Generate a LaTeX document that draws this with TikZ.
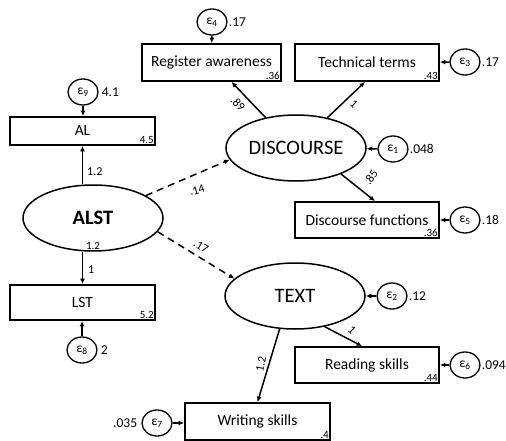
\documentclass[tikz,border=0pt]{standalone}
\usepackage{fontspec}
\setmainfont{Carlito}
\usetikzlibrary{shapes.geometric,arrows.meta}

\begin{document}
\begin{tikzpicture}[x=1pt,y=-1pt,
        obs/.style={draw,rectangle,line width=1.8pt,minimum width=144pt,minimum height=36pt,inner sep=0pt,font=\fontsize{15.5}{16}\selectfont},
        lat/.style={draw,ellipse,line width=1.5pt,minimum width=140pt,minimum height=66pt,inner sep=0pt,font=\fontsize{20.5}{22}\selectfont},
        err/.style={draw,ellipse,line width=1.3pt,minimum width=30pt,minimum height=26pt,inner sep=0pt,font=\fontsize{13.5}{14}\selectfont},
        load/.style={-{Latex[length=5.5pt,width=5pt]},line width=1.5pt},
        cov/.style={load,dash pattern=on 7pt off 5pt},
        ic/.style={anchor=south east,inner sep=2pt,font=\fontsize{11}{12}\selectfont},
        evar/.style={inner sep=1pt,font=\fontsize{13.5}{14}\selectfont},
        coef/.style={inner sep=0pt,font=\fontsize{12}{12}\selectfont}]
    \useasboundingbox (0,0) rectangle (506,441);

    % latent variables
    \node[lat,font=\fontsize{20.5}{22}\selectfont\bfseries] (ALST) at (93,218) {ALST};
    \node[lat] (DISC) at (296,148) {DISCOURSE};
    \node[lat] (TEXT) at (295,296) {TEXT};

    % observed variables
    \node[obs,minimum width=139pt,minimum height=37pt] (reg) at (211.5,62.5) {Register awareness};
    \node[obs,minimum height=37pt] (tech) at (367,62.5) {Technical terms};
    \node[obs] (df) at (367,220) {Discourse functions};
    \node[obs] (rs) at (367,365) {Reading skills};
    \node[obs,minimum width=145pt,minimum height=37pt] (ws) at (257.5,421.5) {Writing skills};
    \node[obs,minimum width=145pt,minimum height=28pt] (AL) at (82.5,131) {AL};
    \node[obs,minimum width=145pt,minimum height=35pt] (LST) at (82.5,302.5) {LST};

    % intercepts
    \node[ic] (ireg) at (reg.south east) {.36};
    \node[ic] (itech) at (tech.south east) {.43};
    \node[ic] (idf) at (df.south east) {.36};
    \node[ic] (irs) at (rs.south east) {.44};
    \node[ic] (iws) at (ws.south east) {.4};
    \node[ic] (iAL) at (AL.south east) {4.5};
    \node[ic] (iLST) at (LST.south east) {5.2};
    \node[ic,anchor=south,inner sep=2pt] (iALST) at (ALST.south) {1.2};

    % error terms
    \node[err] (e1) at (393,149) {ε\textsubscript{1}};
    \node[err] (e2) at (392,296) {ε\textsubscript{2}};
    \node[err] (e3) at (465,62) {ε\textsubscript{3}};
    \node[err] (e4) at (212,22) {ε\textsubscript{4}};
    \node[err] (e5) at (465,220) {ε\textsubscript{5}};
    \node[err] (e6) at (465,365) {ε\textsubscript{6}};
    \node[err] (e7) at (157,423) {ε\textsubscript{7}};
    \node[err] (e8) at (82,350) {ε\textsubscript{8}};
    \node[err] (e9) at (83,92) {ε\textsubscript{9}};

    \node[evar,anchor=west] (v1) at (e1.east) {.048};
    \node[evar,anchor=west] (v2) at (e2.east) {.12};
    \node[evar,anchor=west] (v3) at (e3.east) {.17};
    \node[evar,anchor=west] (v4) at (e4.east) {.17};
    \node[evar,anchor=west] (v5) at (e5.east) {.18};
    \node[evar,anchor=west] (v6) at (e6.east) {.094};
    \node[evar,anchor=east,xshift=-3pt] (v7) at (e7.west) {.035};
    \node[evar,anchor=west,xshift=2pt] (v8) at (e8.east) {2};
    \node[evar,anchor=west,xshift=2pt] (v9) at (e9.east) {4.1};

    \draw[load] (e1) -- (DISC);
    \draw[load] (e2) -- (TEXT);
    \draw[load] (e3) -- (tech);
    \draw[load] (e4) -- (reg);
    \draw[load] (e5) -- (df);
    \draw[load] (e6) -- (rs);
    \draw[load] (e7.east) -- (ws.west |- e7.east);
    \draw[load] (e8) -- (e8 |- LST.south);
    \draw[load] (e9) -- (e9 |- AL.north);

    % loadings
    \draw[load] (ALST.north -| AL.south) -- (AL.south);
    \draw[load] (ALST.south -| LST.north) -- (LST.north);
    \draw[load] (DISC.44) -- ([xshift=-2pt]tech.south);
    \draw[load] (DISC.135) -- ([xshift=20pt]reg.south);
    \draw[load] (DISC.-30) -- ([xshift=8pt]df.north);
    \draw[load] (TEXT.-46) -- ([xshift=-5pt]rs.north);
    \draw[load] (TEXT.-115) -- (ws.north);
    \draw[cov] (ALST.23) -- (DISC.190);
    \draw[cov] (ALST.-12) -- (TEXT.164);

    % coefficients
    \node[coef,anchor=west] (cAL) at (87,172) {1.2};
    \node[coef,anchor=west] (cLST) at (88,270) {1};
    \node[coef,rotate=-45] (creg) at (238,104) {.89};
    \node[coef,rotate=-45] (ctech) at (354,104) {1};
    \node[coef,rotate=55] (cdf) at (371,177) {.85};
    \node[coef,rotate=-45] (crs) at (352,330) {1};
    \node[coef,rotate=78] (cws) at (261,364) {1.2};
    \node[coef,rotate=18] (c14) at (197,190) {.14};
    \node[coef,rotate=-30] (c17) at (201,246) {.17};
\end{tikzpicture}
\end{document}
